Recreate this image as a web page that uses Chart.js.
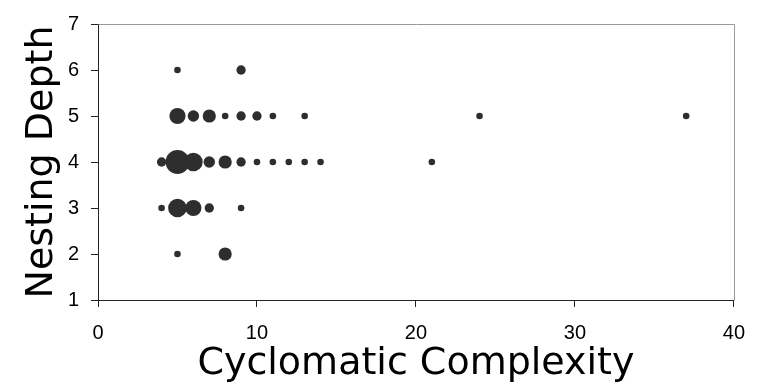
<!DOCTYPE html>
<html>
<head>
<meta charset="utf-8">
<script src="https://cdn.jsdelivr.net/npm/chart.js@4/dist/chart.umd.min.js"></script>
<style>
  body { margin: 0; background: #fff; }
  #wrap { width: 759px; height: 386px; }
</style>
</head>
<body>
<div id="wrap"><canvas id="bubbles"></canvas></div>
<script>
// cyclomatic complexity / nesting depth pairs, and how many methods share each pair
const complexity = [5, 9,
  5, 6, 7, 8, 9, 10, 11, 13, 24, 37,
  4, 5, 6, 7, 8, 9, 10, 11, 12, 13, 14, 21,
  4, 5, 6, 7, 9,
  5, 8];
const depth = [6, 6,
  5, 5, 5, 5, 5, 5, 5, 5, 5, 5,
  4, 4, 4, 4, 4, 4, 4, 4, 4, 4, 4, 4,
  3, 3, 3, 3, 3,
  2, 2];
const count = [1, 2,
  6, 3, 4, 1, 2, 2, 1, 1, 1, 1,
  2, 13, 8, 3, 4, 2, 1, 1, 1, 1, 1, 1,
  1, 8, 6, 2, 1,
  1, 4];
const xTicks = [0, 10, 20, 30, 40];
const yTicks = [1, 2, 3, 4, 5, 6, 7];

// bubble area grows with the count
const bubble_points = complexity.map((c, i) => ({
  x: c,
  y: depth[i],
  r: 3.3 * Math.sqrt(count[i]),
}));

// gray top and right edges of the plot box
const box_frame = {
  id: 'box_frame',
  beforeDatasetsDraw(chart) {
    const {ctx, chartArea} = chart;
    const l = Math.round(chartArea.left) + 0.5;
    const r = Math.round(chartArea.right) + 0.5;
    const t = Math.round(chartArea.top) + 0.5;
    const b = Math.round(chartArea.bottom) + 0.5;
    ctx.save();
    ctx.strokeStyle = '#9a9a9a';
    ctx.lineWidth = 1;
    ctx.beginPath();
    ctx.moveTo(l, t);
    ctx.lineTo(r, t);
    ctx.lineTo(r, b);
    ctx.stroke();
    ctx.restore();
  }
};

const tick_font = {family: 'Liberation Sans', size: 20};
const title_font = {family: 'DejaVu Sans', size: 38, lineHeight: 1};

const bubble_chart = new Chart(document.getElementById('bubbles'), {
  type: 'bubble',
  data: {
    datasets: [{
      data: bubble_points,
      backgroundColor: '#2e2e2e',
      borderWidth: 0,
      hoverBorderWidth: 0,
    }]
  },
  options: {
    responsive: true,
    maintainAspectRatio: false,
    animation: false,
    layout: {padding: {top: 15, right: 24, left: 0, bottom: 0}},
    plugins: {
      legend: {display: false},
      tooltip: {enabled: false},
    },
    scales: {
      x: {
        type: 'linear',
        min: xTicks[0],
        max: xTicks[xTicks.length - 1],
        afterBuildTicks: s => { s.ticks = xTicks.map(v => ({value: v})); },
        afterFit: s => { s.height = 86; },
        ticks: {font: tick_font, color: '#000', padding: 14, maxRotation: 0},
        grid: {drawOnChartArea: false, tickLength: 7, color: '#222'},
        border: {color: '#222', width: 1},
        title: {
          display: true,
          text: 'Cyclomatic Complexity',
          font: title_font,
          color: '#000',
          padding: {top: 0, bottom: 3},
        },
      },
      y: {
        type: 'linear',
        min: yTicks[0],
        max: yTicks[yTicks.length - 1],
        afterBuildTicks: s => { s.ticks = yTicks.map(v => ({value: v})); },
        afterFit: s => { s.width = 98; },
        ticks: {font: tick_font, color: '#000', padding: 12},
        grid: {drawOnChartArea: false, tickLength: 7, color: '#222'},
        border: {color: '#222', width: 1},
        title: {
          display: true,
          text: 'Nesting Depth',
          font: title_font,
          color: '#000',
          padding: {top: 23, bottom: 0},
        },
      },
    },
  },
  plugins: [box_frame],
});
</script>
</body>
</html>
